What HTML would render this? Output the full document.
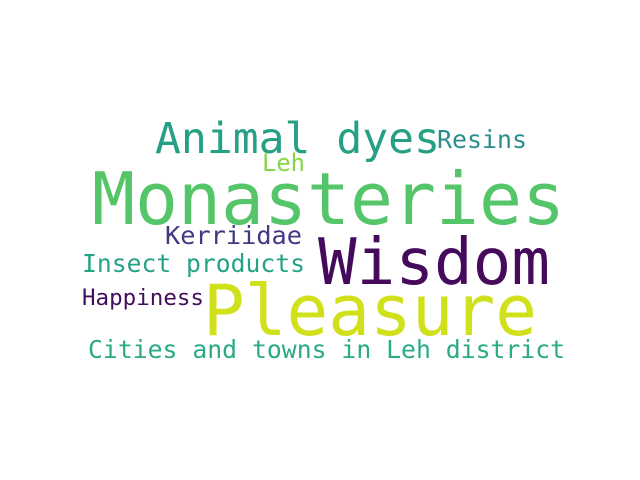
<!DOCTYPE html>
<html><head><meta charset="utf-8"><style>
html,body{margin:0;padding:0;background:#fff;}
svg{display:block;}
text{font-family:"DejaVu Sans Mono","Liberation Mono",monospace;}
</style></head><body>
<svg width="640" height="480" viewBox="0 0 640 480">
<rect width="640" height="480" fill="#fff"/>
<text x="155" y="153" font-size="43" fill="#26a085" textLength="285" lengthAdjust="spacingAndGlyphs">Animal dyes</text>
<text x="437" y="148" font-size="25" fill="#2c8e8c" textLength="90" lengthAdjust="spacingAndGlyphs">Resins</text>
<text x="262" y="171" font-size="24" fill="#86d549" textLength="43" lengthAdjust="spacingAndGlyphs">Leh</text>
<text x="92" y="224" font-size="72" fill="#54c568" textLength="473" lengthAdjust="spacingAndGlyphs">Monasteries</text>
<text x="318" y="284" font-size="64" fill="#450a5c" textLength="232" lengthAdjust="spacingAndGlyphs">Wisdom</text>
<text x="165" y="244" font-size="25" fill="#453781" textLength="137" lengthAdjust="spacingAndGlyphs">Kerriidae</text>
<text x="82" y="272" font-size="25" fill="#25a386" textLength="223" lengthAdjust="spacingAndGlyphs">Insect products</text>
<text x="82" y="305" font-size="22" fill="#440f5a" textLength="122" lengthAdjust="spacingAndGlyphs">Happiness</text>
<text x="203" y="335" font-size="70" fill="#d0e11c" textLength="334" lengthAdjust="spacingAndGlyphs">Pleasure</text>
<text x="88" y="358" font-size="25" fill="#2aaa85" textLength="477" lengthAdjust="spacingAndGlyphs">Cities and towns in Leh district</text>
</svg>
</body></html>
